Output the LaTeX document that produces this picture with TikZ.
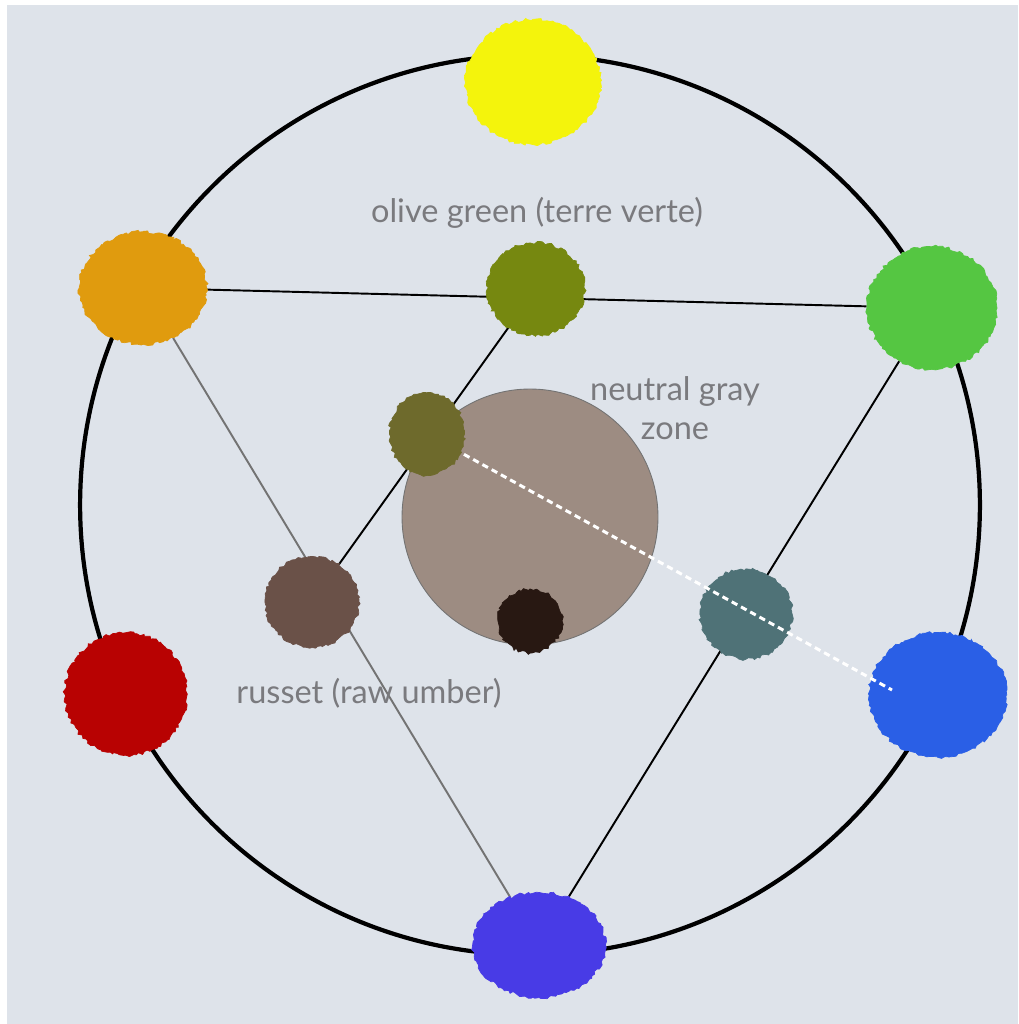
\documentclass[tikz,border=0pt]{standalone}
\usepackage{fontspec}
\setmainfont{Lato}
\usepackage{xcolor}
\usepackage{tikz}
\usetikzlibrary{shapes.geometric,decorations.pathmorphing}
\definecolor{canvas}{RGB}{222,227,234}
\definecolor{inktext}{RGB}{122,122,126}
\definecolor{pyellow}{RGB}{244,244,12}
\definecolor{porange}{RGB}{224,155,14}
\definecolor{pgreen}{RGB}{85,198,66}
\definecolor{pred}{RGB}{184,2,2}
\definecolor{pblue}{RGB}{42,95,230}
\definecolor{pviolet}{RGB}{72,59,230}
\definecolor{polive}{RGB}{118,136,16}
\definecolor{pterre}{RGB}{110,106,44}
\definecolor{prusset}{RGB}{106,81,72}
\definecolor{pumber}{RGB}{40,24,18}
\definecolor{pslate}{RGB}{79,114,119}
\definecolor{pneutral}{RGB}{157,140,130}
\pgfdeclarelayer{bg}
\pgfdeclarelayer{lines}
\pgfdeclarelayer{dash}
\pgfdeclarelayer{top}
\pgfsetlayers{bg,lines,main,dash,top}

\begin{document}
\begin{tikzpicture}[
    x=0.02cm,y=-0.02cm,
    blob/.style={ellipse,inner sep=0pt,fill=#1,draw=#1,line width=0.4pt,
                 decorate,decoration={random steps,segment length=1.6pt,amplitude=0.9pt}},
    spoke/.style={line width=1.1pt,black},
    greyspoke/.style={line width=1.1pt,black!55},
    mixline/.style={line width=1.7pt,white,dash pattern=on 3.6pt off 2.4pt},
    lbl/.style={text=inktext,font=\fontsize{18.5}{22}\selectfont,align=center}
  ]
    \useasboundingbox (0,0) rectangle (1018,1024);
    \begin{pgfonlayer}{bg}
      \fill[white] (0,0) rectangle (1018,1024);
      \fill[canvas] (7,5) rectangle (1018,1024);
      \draw[line width=2.4pt,black] (530,505) circle[radius=9cm];
    \end{pgfonlayer}

    % outer ring of paints
    \node[blob=pyellow,minimum width=2.7cm,minimum height=2.5cm] (yellow) at (533,82) {};
    \node[blob=porange,minimum width=2.55cm,minimum height=2.25cm] (orange) at (143,288) {};
    \node[blob=pgreen,minimum width=2.6cm,minimum height=2.45cm] (green) at (932,308) {};
    \node[blob=pred,minimum width=2.45cm,minimum height=2.45cm] (red) at (126,694) {};
    \node[blob=pblue,minimum width=2.75cm,minimum height=2.5cm] (blue) at (938,695) {};
    \node[blob=pviolet,minimum width=2.65cm,minimum height=2.1cm] (violet) at (539,945) {};

    % mixtures
    \node[circle,fill=pneutral,draw=black!55,line width=0.5pt,minimum size=5.12cm] (zone) at (530,517) {};
    \node[blob=polive,minimum width=1.95cm,minimum height=1.85cm] (olive) at (536,289) {};
    \node[blob=prusset,minimum width=1.88cm,minimum height=1.82cm] (russet) at (312,602) {};
    \node[blob=pumber,minimum width=1.28cm,minimum height=1.28cm] (umber) at (530,621) {};
    \node[blob=pslate,minimum width=1.84cm,minimum height=1.8cm] (slate) at (746,614) {};
    \begin{pgfonlayer}{top}
      \node[blob=pterre,minimum width=1.5cm,minimum height=1.65cm] (terre) at (427,434) {};
    \end{pgfonlayer}
    \coordinate (fade) at (892,690);

    \begin{pgfonlayer}{lines}
      \draw[spoke] (orange)--(green);
      \draw[greyspoke] (orange)--(violet);
      \draw[spoke] (olive)--(russet);
      \draw[spoke] (green)--(violet);
    \end{pgfonlayer}
    \begin{pgfonlayer}{dash}
      \draw[mixline] (terre.center)--(fade);
    \end{pgfonlayer}

    \node[lbl] (olivelbl) at (537,213) {olive green (terre verte)};
    \node[lbl] (zonelbl) at (675,408) {neutral gray\\zone};
    \node[lbl] (russetlbl) at (369,693) {russet (raw umber)};
  \end{tikzpicture}
\end{document}
